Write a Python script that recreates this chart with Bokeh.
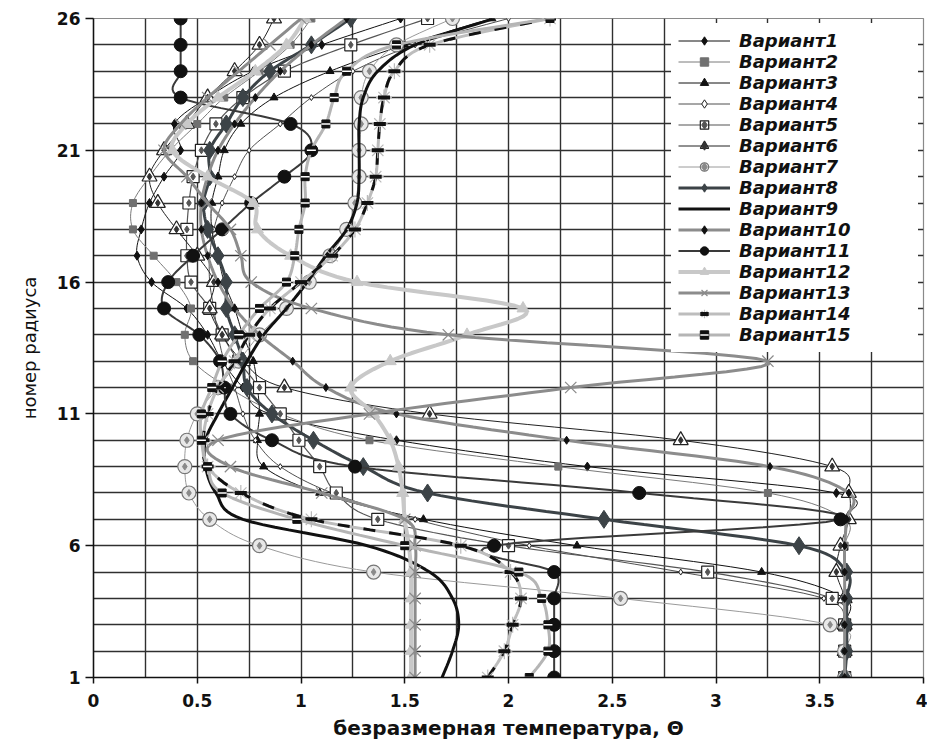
import numpy as np
from bokeh.plotting import figure
from bokeh.models import FixedTicker, Legend, LegendItem
from bokeh.embed import file_html
from bokeh.resources import INLINE

# ---------------- data ----------------
radius = list(range(1, 27))
x_ticks = [0, 0.5, 1, 1.5, 2, 2.5, 3, 3.5, 4]
x_tick_labels = ["0", "0.5", "1", "1.5", "2", "2.5", "3", "3.5", "4"]
y_ticks = [1, 6, 11, 16, 21, 26]
y_tick_labels = ["1", "6", "11", "16", "21", "26"]
labels = ["Вариант1", "Вариант2", "Вариант3", "Вариант4", "Вариант5",
          "Вариант6", "Вариант7", "Вариант8", "Вариант9", "Вариант10",
          "Вариант11", "Вариант12", "Вариант13", "Вариант14", "Вариант15"]

# values listed for radius 1 .. 26
v1 = [3.62, 3.62, 3.62, 3.62, 3.62, 3.62, 3.62, 3.58, 2.38, 1.46, 0.85, 0.72, 0.62,
      0.55, 0.45, 0.28, 0.21, 0.23, 0.27, 0.34, 0.42, 0.39, 0.55, 0.77, 1.10, 1.48]
v2 = [3.62, 3.62, 3.62, 3.62, 3.62, 3.62, 3.62, 3.25, 2.24, 1.33, 0.90, 0.65, 0.48,
      0.44, 0.47, 0.40, 0.29, 0.19, 0.19, 0.27, 0.37, 0.50, 0.63, 0.80, 0.95, 1.05]
v3 = [3.62, 3.62, 3.62, 3.62, 3.22, 2.33, 1.59, 1.09, 0.82, 0.79, 0.80, 0.79, 0.77,
      0.72, 0.68, 0.63, 0.60, 0.57, 0.57, 0.60, 0.63, 0.71, 0.87, 1.14, 1.50, 1.92]
v4 = [3.62, 3.62, 3.62, 3.52, 2.83, 2.10, 1.55, 1.15, 0.90, 0.78, 0.72, 0.68, 0.63,
      0.60, 0.58, 0.56, 0.56, 0.58, 0.62, 0.68, 0.75, 0.90, 1.05, 1.25, 1.55, 2.00]
v5 = [3.62, 3.62, 3.62, 3.56, 2.96, 2.00, 1.37, 1.17, 1.09, 0.99, 0.90, 0.80, 0.70,
      0.62, 0.56, 0.47, 0.45, 0.45, 0.46, 0.48, 0.52, 0.59, 0.72, 0.92, 1.24, 1.61]
v6 = [3.62, 3.62, 3.62, 3.62, 3.58, 3.60, 3.64, 3.64, 3.56, 2.83, 1.62, 0.92, 0.72,
      0.62, 0.56, 0.58, 0.50, 0.40, 0.31, 0.27, 0.34, 0.45, 0.55, 0.68, 0.80, 0.87]
v7 = [3.62, 3.62, 3.55, 2.54, 1.35, 0.80, 0.56, 0.46, 0.44, 0.45, 0.50, 0.60, 0.70,
      0.80, 0.93, 1.04, 1.14, 1.22, 1.26, 1.28, 1.28, 1.29, 1.29, 1.33, 1.46, 1.73]
v8 = [3.62, 3.63, 3.63, 3.63, 3.63, 3.40, 2.46, 1.61, 1.30, 1.06, 0.86, 0.74, 0.72,
      0.68, 0.64, 0.64, 0.60, 0.55, 0.53, 0.56, 0.56, 0.64, 0.72, 0.85, 1.05, 1.24]
v9 = [1.68, 1.73, 1.76, 1.73, 1.62, 1.32, 0.72, 0.59, 0.54, 0.54, 0.60, 0.67, 0.74,
      0.82, 0.93, 1.03, 1.12, 1.22, 1.27, 1.28, 1.28, 1.28, 1.30, 1.37, 1.55, 1.93]
v10 = [3.62, 3.62, 3.62, 3.62, 3.62, 3.62, 3.63, 3.64, 3.26, 2.28, 1.46, 1.12, 0.96,
       0.80, 0.68, 0.60, 0.55, 0.52, 0.52, 0.55, 0.60, 0.68, 0.78, 0.90, 1.05, 1.22]
v11 = [2.22, 2.22, 2.22, 2.22, 2.22, 1.93, 3.60, 2.63, 1.26, 0.86, 0.66, 0.63, 0.61,
       0.51, 0.34, 0.36, 0.48, 0.62, 0.76, 0.92, 1.05, 0.95, 0.42, 0.42, 0.42, 0.42]
v12 = [1.53, 1.53, 1.53, 1.53, 1.53, 1.52, 1.50, 1.49, 1.47, 1.43, 1.35, 1.24, 1.43,
       1.80, 2.07, 1.27, 0.95, 0.79, 0.77, 0.55, 0.38, 0.45, 0.60, 0.78, 0.93, 1.02]
v13 = [1.55, 1.55, 1.55, 1.55, 1.55, 1.55, 1.50, 1.10, 0.66, 0.60, 1.33, 2.30, 3.25,
       1.71, 1.05, 0.76, 0.71, 0.66, 0.55, 0.45, 0.34, 0.42, 0.55, 0.70, 0.85, 1.00]
v14 = [1.90, 1.98, 2.02, 2.06, 2.01, 1.77, 1.05, 0.71, 0.55, 0.53, 0.55, 0.60, 0.68,
       0.75, 0.85, 1.00, 1.15, 1.26, 1.32, 1.36, 1.37, 1.38, 1.40, 1.45, 1.62, 2.20]
v15 = [2.10, 2.19, 2.19, 2.16, 2.05, 1.50, 0.98, 0.62, 0.55, 0.52, 0.52, 0.57, 0.62,
       0.70, 0.80, 0.93, 0.97, 0.99, 1.02, 1.02, 1.05, 1.12, 1.16, 1.22, 1.46, 2.20]
series = [v1, v2, v3, v4, v5, v6, v7, v8, v9, v10, v11, v12, v13, v14, v15]

# ---------------- styles ----------------
line_styles = [
    ("#111111", 1.0), ("#7a7a7a", 1.0), ("#111111", 1.0), ("#222222", 0.8),
    ("#555555", 1.2), ("#222222", 1.0), ("#9a9a9a", 1.0), ("#3c4347", 3.0),
    ("#111111", 3.0), ("#8c8c8c", 3.0), ("#3a3a3a", 2.0), ("#c8c8c8", 4.0),
    ("#8c8c8c", 3.0), ("#bdbdbd", 3.0), ("#b5b5b5", 3.0),
]
marker_styles = [
    [("diamond", 9, "#111111", "#111111", 1)],
    [("square", 7, "#707070", "#707070", 1)],
    [("triangle", 8, "#111111", "#111111", 1)],
    [("diamond", 6, "white", "#222222", 1)],
    [("square", 12, "white", "#222222", 1.2), ("diamond", 7, "#555555", "#555555", 1)],
    [("triangle", 15, "white", "#222222", 1.2), ("diamond", 7, "#333333", "#333333", 1)],
    [("circle", 14, "#e8e8e8", "#777777", 1.2), ("diamond", 7, "#8a8a8a", "#8a8a8a", 1)],
    [("diamond", 18, "#3c4347", "#3c4347", 1)],
    [],
    [("diamond", 8, "#111111", "#111111", 1)],
    [("circle", 13, "#111111", "#111111", 1)],
    [("triangle", 12, "#c8c8c8", "#c8c8c8", 1)],
    [("x", 16, None, "#8a8a8a", 1.2)],
    [("asterisk", 16, None, "#bbbbbb", 1.2), ("dash", 12, None, "#111111", 4)],
    [("square", 8, "#111111", "#111111", 1), ("dash", 9, None, "white", 1.5)],
]


def smooth(xs, ys, steps=10):
    """Catmull-Rom path through the points (drawing only, like Excel's smoothed lines)."""
    px = np.asarray(xs, float)
    py = np.asarray(ys, float)
    n = len(px)
    ox, oy = [], []
    for i in range(n - 1):
        i0 = max(i - 1, 0)
        i3 = min(i + 2, n - 1)
        for t in np.linspace(0, 1, steps, endpoint=False):
            t2, t3 = t * t, t * t * t
            for arr, out in ((px, ox), (py, oy)):
                p0, p1, p2, p3 = arr[i0], arr[i], arr[i + 1], arr[i3]
                out.append(0.5 * (2 * p1 + (-p0 + p2) * t
                                  + (2 * p0 - 5 * p1 + 4 * p2 - p3) * t2
                                  + (-p0 + 3 * p1 - 3 * p2 + p3) * t3))
    ox.append(px[-1])
    oy.append(py[-1])
    return ox, oy


FONT = "DejaVu Sans"

p = figure(frame_width=830, frame_height=659,
           x_range=(0, 4), y_range=(1, 26),
           output_backend="svg", toolbar_location=None,
           min_border_left=93, min_border_right=4,
           min_border_top=18, min_border_bottom=66,
           background_fill_color="white", border_fill_color="white")

p.outline_line_color = "#8a8a8a"
p.outline_line_width = 1.2

# grid
p.xgrid.ticker = FixedTicker(ticks=[0.25 * k for k in range(1, 16)])
p.ygrid.ticker = FixedTicker(ticks=list(range(2, 26)))
for g in (p.xgrid[0], p.ygrid[0]):
    g.grid_line_color = "#303030"
    g.grid_line_width = 1.4

# axes
p.xaxis.ticker = FixedTicker(ticks=x_ticks)
p.yaxis.ticker = FixedTicker(ticks=y_ticks)
p.xaxis.major_label_overrides = {t: l for t, l in zip(x_ticks, x_tick_labels)}
p.yaxis.major_label_overrides = {t: l for t, l in zip(y_ticks, y_tick_labels)}
for ax in (p.xaxis[0], p.yaxis[0]):
    ax.axis_line_color = "#111111"
    ax.axis_line_width = 1.5
    ax.major_tick_line_color = "#111111"
    ax.major_tick_line_width = 1.5
    ax.major_tick_in = 0
    ax.minor_tick_line_color = None
    ax.major_label_text_font = FONT
    ax.major_label_text_font_style = "bold"
    ax.major_label_text_font_size = "17px"
    ax.major_label_text_color = "#111111"
    ax.axis_label_text_font = FONT
    ax.axis_label_text_color = "#111111"
p.xaxis.major_tick_out = 6
p.yaxis.major_tick_out = 8
p.xaxis.major_label_standoff = 10
p.yaxis.major_label_standoff = 5
p.xaxis.axis_label = "безразмерная температура, Θ"
p.xaxis.axis_label_text_font_style = "bold"
p.xaxis.axis_label_text_font_size = "20px"
p.xaxis.axis_label_standoff = 6
p.yaxis.axis_label = "номер радиуса"
p.yaxis.axis_label_text_font_style = "normal"
p.yaxis.axis_label_text_font_size = "18px"
p.yaxis.axis_label_standoff = 14

# series
items = []
for lab, vals, (lc, lw), mks in zip(labels, series, line_styles, marker_styles):
    sx, sy = smooth(vals, radius)
    rends = [p.line(sx, sy, line_color=lc, line_width=lw)]
    if lab == "Вариант14":
        p.line(sx, sy, line_color="#111111", line_width=3, line_dash="12 14")
    for (m, size, fill, mlc, mlw) in mks:
        kw = dict(marker=m, size=size, line_color=mlc, line_width=mlw)
        if fill is None:
            kw["fill_alpha"] = 0
        else:
            kw["fill_color"] = fill
        rends.append(p.scatter(vals, radius, **kw))
    items.append(LegendItem(label=lab, renderers=rends))

legend = Legend(items=items, location="top_right", margin=5,
                label_text_font=FONT, label_text_font_style="bold italic",
                label_text_font_size="18px", label_text_color="#111111",
                label_text_line_height=1.0,
                label_height=21, glyph_height=21, glyph_width=52,
                label_standoff=9, label_width=172, spacing=0, padding=7,
                border_line_alpha=0,
                background_fill_color="white", background_fill_alpha=1.0)
p.add_layout(legend)

open("out.html", "w").write(file_html(p, INLINE))
